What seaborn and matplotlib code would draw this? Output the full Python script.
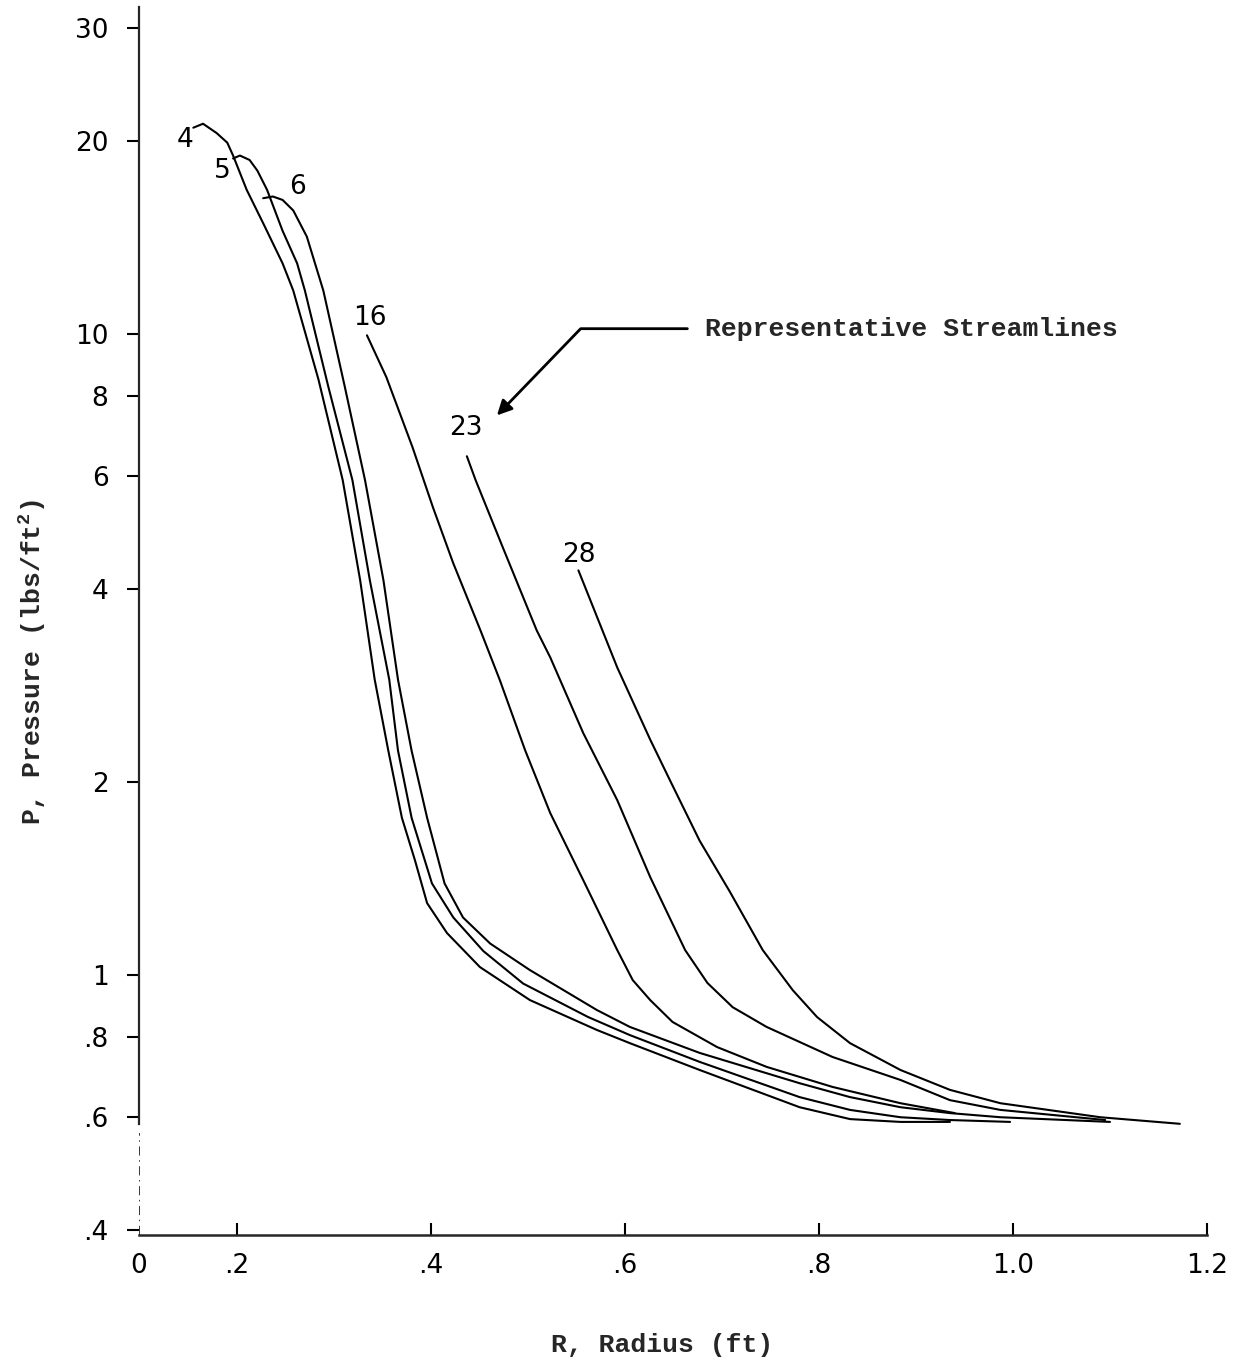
import numpy as np
import pandas as pd
import matplotlib
matplotlib.use("Agg")
import matplotlib.pyplot as plt
import seaborn as sns

# ---- data ----
r4 = [0.155, 0.165, 0.179, 0.190, 0.196, 0.210, 0.227, 0.247, 0.258, 0.284, 0.309, 0.327, 0.342,
      0.356, 0.370, 0.3835, 0.396, 0.4165, 0.4505, 0.502, 0.571, 0.605, 0.677, 0.780, 0.832,
      0.884, 0.935]
p4 = [21.0, 21.3, 20.6, 19.9, 19.0, 16.8, 14.9, 12.9, 11.7, 8.5, 5.92, 4.13, 2.89,
      2.24, 1.76, 1.51, 1.295, 1.163, 1.029, 0.914, 0.821, 0.783, 0.711, 0.622, 0.596,
      0.590, 0.590]

r5 = [0.196, 0.203, 0.213, 0.221, 0.231, 0.247, 0.262, 0.270, 0.294, 0.319, 0.337, 0.357, 0.366,
      0.380, 0.401, 0.423, 0.454, 0.495, 0.562, 0.605, 0.677, 0.780, 0.832, 0.884, 0.935, 0.997]
p5 = [18.8, 19.0, 18.7, 18.0, 16.8, 14.5, 12.9, 11.7, 8.3, 5.92, 4.13, 2.89, 2.24,
      1.76, 1.39, 1.23, 1.09, 0.97, 0.86, 0.806, 0.732, 0.645, 0.616, 0.600, 0.594, 0.590]

r6 = [0.227, 0.237, 0.247, 0.258, 0.272, 0.289, 0.311, 0.332, 0.351, 0.366, 0.380, 0.396,
      0.414, 0.433, 0.461, 0.502, 0.571, 0.605, 0.677, 0.780, 0.832, 0.884, 0.935, 0.987, 1.100]
p6 = [16.3, 16.4, 16.2, 15.6, 14.2, 11.7, 8.3, 5.92, 4.13, 2.89, 2.24, 1.76,
      1.39, 1.23, 1.12, 1.018, 0.882, 0.830, 0.756, 0.678, 0.645, 0.622, 0.609, 0.600, 0.590]

r16 = [0.334, 0.354, 0.381, 0.402, 0.423, 0.451, 0.471, 0.497, 0.523, 0.557, 0.592, 0.608,
       0.626, 0.649, 0.695, 0.746, 0.814, 0.884, 0.940]
p16 = [9.96, 8.57, 6.66, 5.37, 4.39, 3.45, 2.885, 2.244, 1.789, 1.406, 1.094, 0.982,
       0.914, 0.845, 0.772, 0.719, 0.669, 0.631, 0.609]

r23 = [0.437, 0.446, 0.474, 0.509, 0.523, 0.557, 0.592, 0.626, 0.662, 0.685, 0.711, 0.746,
       0.814, 0.884, 0.935, 0.987, 1.095]
p23 = [6.45, 5.92, 4.65, 3.45, 3.13, 2.385, 1.875, 1.422, 1.094, 0.972, 0.891, 0.830,
       0.745, 0.686, 0.638, 0.616, 0.594]

r28 = [0.552, 0.592, 0.626, 0.648, 0.677, 0.708, 0.742, 0.773, 0.798, 0.832, 0.884, 0.935,
       0.987, 1.090, 1.172]
p28 = [4.28, 3.02, 2.33, 1.99, 1.62, 1.35, 1.094, 0.947, 0.860, 0.783, 0.711, 0.662,
       0.631, 0.600, 0.586]

streamlines = ["4", "5", "6", "16", "23", "28"]
radii = [r4, r5, r6, r16, r23, r28]
pressures = [p4, p5, p6, p16, p23, p28]

# curve label anchor points (data coords)
label_r = [0.146, 0.185, 0.262, 0.337, 0.436, 0.552]
label_p = [20.1, 18.0, 16.96, 10.59, 7.14, 4.52]

yticks = [0.4, 0.6, 0.8, 1, 2, 4, 6, 8, 10, 20, 30]
yticklabels = [".4", ".6", ".8", "1", "2", "4", "6", "8", "10", "20", "30"]
x_origin = 0.099
xticks = [x_origin, 0.2, 0.4, 0.6, 0.8, 1.0, 1.2]
xticklabels = ["0", ".2", ".4", ".6", ".8", "1.0", "1.2"]

frames = [pd.DataFrame({"R": r, "P": p, "line": s}) for r, p, s in zip(radii, pressures, streamlines)]
df = pd.concat(frames, ignore_index=True)

# ---- style ----
sns.set_style("ticks")
plt.rcParams["font.family"] = ["DejaVu Sans"]
plt.rcParams["mathtext.fontset"] = "custom"
plt.rcParams["mathtext.rm"] = "Liberation Mono:bold"
plt.rcParams["mathtext.it"] = "Liberation Mono:bold"
plt.rcParams["mathtext.bf"] = "Liberation Mono:bold"

fig = plt.figure(figsize=(12.37, 13.72), dpi=100)
ax = fig.add_axes([139 / 1237, 1 - 1235 / 1372, (1207 - 139) / 1237, (1235 - 7) / 1372])

sns.lineplot(data=df, x="R", y="P", hue="line", units="line", estimator=None, sort=False,
             palette=["black"] * len(streamlines), legend=False, linewidth=1.5, ax=ax)

ax.set_yscale("log")
ax.set_xlim(x_origin, 1.2)
ax.set_ylim(0.393, 32.4)

ax.yaxis.set_major_locator(matplotlib.ticker.FixedLocator(yticks))
ax.yaxis.set_minor_locator(matplotlib.ticker.NullLocator())
ax.set_yticklabels(yticklabels)
ax.set_xticks(xticks)
ax.set_xticklabels(xticklabels)

ax.tick_params(axis="y", direction="out", length=9, width=1.5, pad=13, labelsize=19, colors="black")
ax.tick_params(axis="x", direction="in", length=9, width=1.5, pad=13, labelsize=19, colors="black")
ax.xaxis.get_major_ticks()[0].tick1line.set_visible(False)

for side in ["top", "right"]:
    ax.spines[side].set_visible(False)
ax.spines["left"].set_linewidth(1.6)
ax.spines["bottom"].set_linewidth(1.8)
ax.spines["left"].set_bounds(0.585, 32.4)
ax.axvline(x_origin, ymin=0, ymax=0.083, color="black", lw=1.1, ls=(0, (6, 3, 1, 3)))

# curve labels
for s, lr, lp in zip(streamlines, label_r, label_p):
    ax.text(lr, lp, s, fontsize=19, ha="center", va="center", color="black")

# annotation
ax.annotate("Representative Streamlines", xy=(0.468, 7.47), xytext=(0.682, 10.2),
            fontsize=19, fontweight="bold", family="Liberation Mono", ha="left", va="center",
            arrowprops=dict(arrowstyle="-|>", connectionstyle="angle,angleA=0,angleB=46,rad=0",
                            relpos=(0, 0.5), shrinkA=10, shrinkB=0, lw=2, color="black",
                            mutation_scale=22))

ax.set_xlabel("R, Radius (ft)", fontsize=19, fontweight="bold", family="Liberation Mono")
ax.set_ylabel(r"P, Pressure (lbs/ft$^{2}$)", fontsize=19, fontweight="bold", family="Liberation Mono")
ax.xaxis.set_label_coords(0.49, -0.08)
ax.yaxis.set_label_coords(-0.085, 0.467)

fig.savefig("out.png", dpi=100, facecolor="white")
